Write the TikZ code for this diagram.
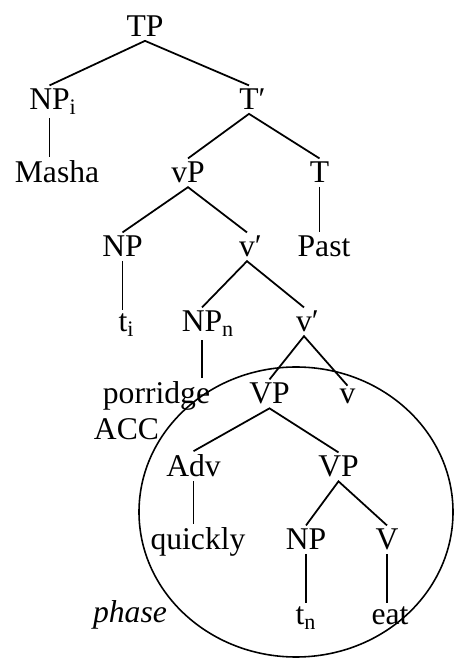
\documentclass[tikz,border=0pt]{standalone}
\usepackage{fontspec}
\setmainfont{Liberation Serif}
\usepackage{tikz}
\usetikzlibrary{positioning}

% subscript and prime that do not widen the label
\newcommand{\trsub}[1]{\rlap{\textsubscript{#1}}}
\newcommand{\trbar}{\rlap{′}}

\begin{document}
\begin{tikzpicture}[x=1cm,y=1cm,
    cat/.style={anchor=base,inner sep=2pt,font=\fontsize{18}{21}\selectfont},
    branch/.style={line width=1pt}]
  \useasboundingbox (0,0) rectangle (9.08,13.16);

  \node[cat] (tp) at (2.90,12.42) {TP};

  \node[cat] (npi)  at (0.99,10.96) {NP\trsub{i}};
  \node[cat] (tbar) at (4.98,10.96) {T\trbar};

  \node[cat] (masha) at (1.14,9.50) {Masha};
  \node[cat] (vp)    at (3.76,9.50) {vP};
  \node[cat] (t)     at (6.39,9.50) {T};

  \node[cat] (np)   at (2.45,8.02) {NP};
  \node[cat] (vbar) at (4.94,8.02) {v\trbar};
  \node[cat] (past) at (6.48,8.02) {Past};

  \node[cat] (ti)    at (2.46,6.52) {t\trsub{i}};
  \node[cat] (npn)   at (4.04,6.52) {NP\trsub{n}};
  \node[cat] (vbarb) at (6.08,6.52) {v\trbar};

  \node[cat] (porridge) at (3.13,5.08) {porridge};
  \node[cat] (acc)      at (2.53,4.36) {ACC};
  \node[cat] (vpa)      at (5.39,5.08) {VP};
  \node[cat] (v)        at (6.95,5.08) {v};

  \node[cat] (adv) at (3.87,3.62) {Adv};
  \node[cat] (vpb) at (6.77,3.62) {VP};

  \node[cat] (quickly) at (3.96,2.16) {quickly};
  \node[cat] (npb)     at (6.12,2.16) {NP};
  \node[cat] (vv)      at (7.74,2.16) {V};

  \node[cat] (tn)    at (6.00,0.66) {t\trsub{n}};
  \node[cat] (eat)   at (7.80,0.66) {eat};
  \node[cat,font=\fontsize{18}{21}\selectfont\itshape] (phase) at (2.60,0.70) {phase};

  % branches
  \draw[branch] (npi.north) -- (tp.south) -- (tbar.north);
  \draw[branch] (vp.north) -- (tbar.south) -- (t.north);
  \draw[branch] (np.north) -- (vp.south) -- (vbar.north);
  \draw[branch] (npn.north) -- (vbar.south) -- (vbarb.north);
  \draw[branch] (vpa.north) -- (vbarb.south) -- (v.north);
  \draw[branch] (adv.north) -- (vpa.south) -- (vpb.north);
  \draw[branch] (npb.north) -- (vpb.south) -- (vv.north);

  % unary branches stay vertical
  \draw[branch] (npi.south) -- (npi.south |- masha.north);
  \draw[branch] (t.south) -- (t.south |- past.north);
  \draw[branch] (np.south) -- (np.south |- ti.north);
  \draw[branch] (npn.south) -- (npn.south |- porridge.north);
  \draw[branch] (adv.south) -- (adv.south |- quickly.north);
  \draw[branch] (npb.south) -- (npb.south |- tn.north);
  \draw[branch] (vv.south) -- (vv.south |- eat.north);

  % the phase
  \draw[line width=0.9pt] (5.92,2.92) ellipse [x radius=3.14, y radius=2.90];
\end{tikzpicture}
\end{document}
